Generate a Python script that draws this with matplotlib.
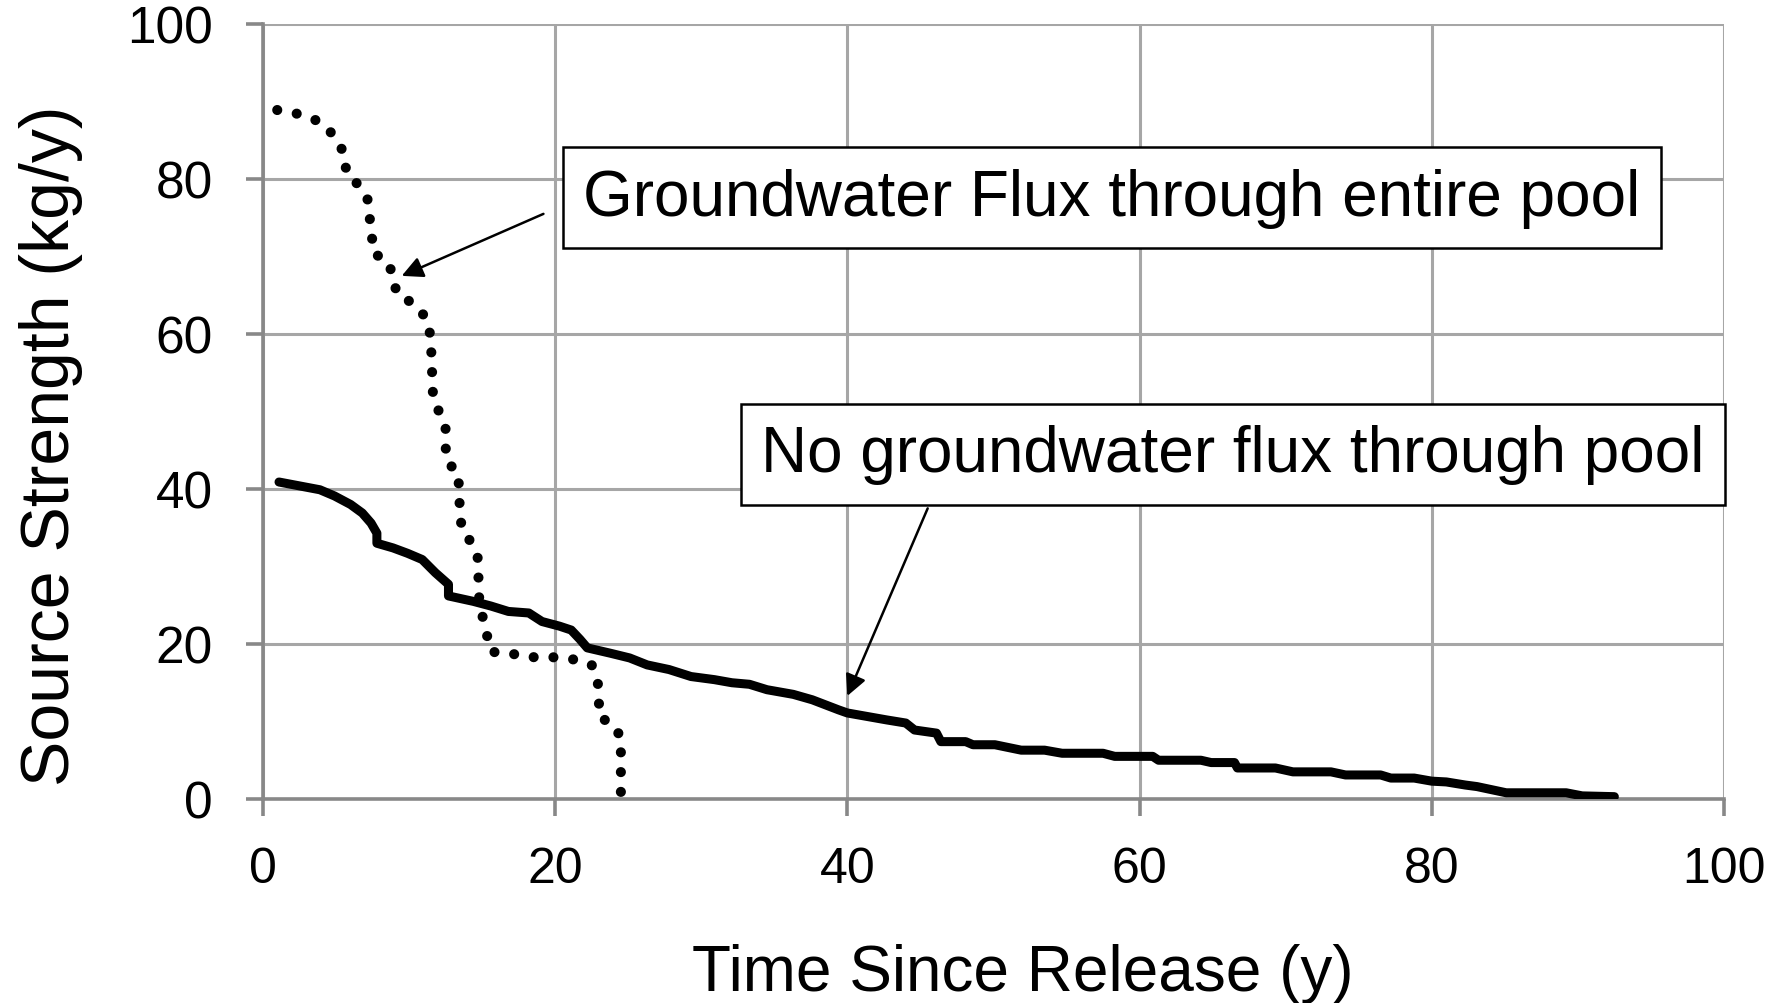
import matplotlib
matplotlib.use("Agg")
import matplotlib.pyplot as plt
from matplotlib import font_manager

# ---- data ----
flux_x = [0.98, 2.4, 3.6, 4.5, 5.1, 5.6, 5.7, 6.5, 7.15, 7.3, 7.45, 7.56, 8.5, 8.9, 9.15,
          10.05, 10.85, 11.35, 11.5, 11.55, 11.6, 11.65, 12.1, 12.5, 12.5, 12.6, 13.4, 13.4,
          13.5, 13.6, 14.3, 14.7, 14.75, 14.8, 15.0, 15.3, 15.6, 17.0, 18.3, 19.8, 21.3, 22.5,
          22.9, 23.0, 23.0, 24.0, 24.5, 24.5, 24.5, 24.5]
flux_y = [88.9, 88.4, 87.6, 86.4, 84.8, 83.2, 80.8, 79.3, 77.5, 75.1, 72.8, 70.4, 69.5, 67.6, 65.2,
          64.2, 62.9, 61.2, 58.9, 56.4, 54.0, 51.6, 49.8, 47.9, 45.5, 43.5, 42.0, 39.6,
          37.2, 34.8, 33.0, 31.1, 28.7, 26.0, 23.8, 21.4, 19.0, 18.75, 18.3, 18.3, 18.0, 17.3,
          15.5, 13.0, 10.6, 9.6, 7.9, 5.5, 3.1, 0.0]

noflux_x = [1.1, 2.5, 3.9, 4.9, 6.0, 6.8, 7.4, 7.8, 7.8, 8.9, 9.9, 10.9, 11.8, 12.7, 12.7, 14.4,
            15.6, 16.8, 18.2, 19.1, 20.3, 21.1, 21.7, 22.2, 23.8, 25.1, 26.3, 27.8, 29.3, 30.9,
            32.1, 33.3, 34.5, 36.3, 37.6, 39.4, 40.0, 41.2, 42.7, 44.0, 44.6, 46.1, 46.4, 48.1,
            48.6, 50.1, 51.9, 53.5, 54.7, 57.5, 58.3, 60.9, 61.3, 64.2, 64.9, 66.5, 66.7, 69.3,
            70.5, 73.1, 74.1, 76.5, 77.2, 78.8, 80.0, 81.0, 82.3, 83.1, 85.1, 89.2, 90.3, 92.5]
noflux_y = [40.9, 40.4, 39.9, 39.1, 38.0, 36.9, 35.6, 34.3, 33.0, 32.4, 31.7, 30.9, 29.2, 27.7, 26.2, 25.5,
            24.9, 24.2, 24.0, 22.9, 22.3, 21.8, 20.6, 19.5, 18.8, 18.2, 17.3, 16.7, 15.8, 15.4,
            15.0, 14.8, 14.1, 13.5, 12.8, 11.5, 11.1, 10.7, 10.2, 9.8, 8.9, 8.5, 7.4, 7.4,
            7.0, 7.0, 6.3, 6.3, 5.9, 5.9, 5.5, 5.5, 5.0, 5.0, 4.7, 4.7, 4.0, 4.0,
            3.5, 3.5, 3.1, 3.1, 2.7, 2.7, 2.3, 2.2, 1.8, 1.6, 0.8, 0.8, 0.4, 0.3]

x_ticks = [0, 20, 40, 60, 80, 100]
y_ticks = [0, 20, 40, 60, 80, 100]
label_flux = "Groundwater Flux through entire pool"
label_noflux = "No groundwater flux through pool"
xlabel = "Time Since Release (y)"
ylabel = "Source Strength (kg/y)"

# ---- fonts ----
names = {f.name for f in font_manager.fontManager.ttflist}
narrow = "Liberation Sans Narrow" if "Liberation Sans Narrow" in names else "Liberation Sans"
plt.rcParams['font.family'] = ['Liberation Sans', 'DejaVu Sans']

fig = plt.figure(figsize=(17.85, 10.04), dpi=100)
ax = fig.add_axes([0.1473, 0.2032, 0.9658 - 0.1473, 0.9751 - 0.2032])

ax.plot(noflux_x, noflux_y, color='black', lw=6.5, solid_capstyle='round', solid_joinstyle='round', zorder=3)
ax.plot(flux_x, flux_y, color='black', lw=7.3, linestyle=(0, (0.001, 1.95)),
        dash_capstyle='round', zorder=3)

ax.set_xlim(0, 100)
ax.set_ylim(0, 100)
ax.set_xticks(x_ticks)
ax.set_yticks(y_ticks)
ax.grid(True, color='#A6A6A6', lw=2.2)
ax.set_axisbelow(True)
for s in ['top', 'right']:
    ax.spines[s].set_visible(False)
for s in ['left', 'bottom']:
    ax.spines[s].set_color('#888888')
    ax.spines[s].set_linewidth(2.6)
ax.tick_params(axis='both', direction='out', length=12, width=2.6, color='#888888',
               labelsize=36, pad=22)
ax.tick_params(axis='y', pad=24, labelsize=37)

ax.set_xlabel(xlabel, fontsize=46, family=narrow)
ax.set_ylabel(ylabel, fontsize=49, family=narrow)
ax.xaxis.set_label_coords(0.52, -0.224)
ax.yaxis.set_label_coords(-0.145, 0.457)
ax.xaxis.label.set_va('center')
ax.yaxis.label.set_va('center')

box = dict(boxstyle='square,pad=0.32', facecolor='white', edgecolor='black', lw=1.8)
ax.text(58.1, 77.6, label_flux, fontsize=46, family=narrow, ha='center', va='center',
        bbox=box, zorder=5)
ax.text(66.4, 44.5, label_noflux, fontsize=46, family=narrow, ha='center', va='center',
        bbox=box, zorder=5)

arrow = dict(arrowstyle='-|>', color='black', lw=1.8, mutation_scale=32, shrinkA=0, shrinkB=0)
ax.annotate('', xy=(9.5, 67.5), xytext=(19.2, 75.5), arrowprops=arrow, zorder=4)
ax.annotate('', xy=(40.0, 13.3), xytext=(45.5, 37.5), arrowprops=arrow, zorder=4)

fig.savefig('out.png', dpi=100)
